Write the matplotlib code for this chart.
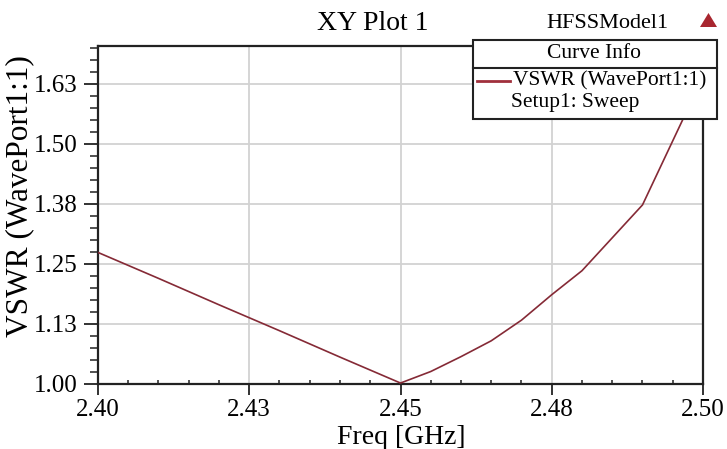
import matplotlib
matplotlib.use("Agg")
import matplotlib.pyplot as plt
from matplotlib.patches import Rectangle, Polygon
from matplotlib.lines import Line2D
from matplotlib.ticker import FixedLocator, FixedFormatter, AutoMinorLocator

plt.rcParams['font.family'] = ['Liberation Serif', 'DejaVu Serif']

# VSWR sweep of WavePort1
freq_ghz = [2.40, 2.41, 2.42, 2.43, 2.44, 2.45, 2.455, 2.46, 2.465, 2.47,
            2.475, 2.48, 2.49, 2.50]
vswr = [1.274, 1.220, 1.165, 1.111, 1.056, 1.002, 1.026, 1.057, 1.090, 1.133,
        1.186, 1.236, 1.373, 1.640]

x_ticks = [2.400, 2.425, 2.450, 2.475, 2.500]
x_tick_labels = ["2.40", "2.43", "2.45", "2.48", "2.50"]
y_ticks = [1.000, 1.125, 1.250, 1.375, 1.500, 1.625]
y_tick_labels = ["1.00", "1.13", "1.25", "1.38", "1.50", "1.63"]

W, H = 727, 449
fig = plt.figure(figsize=(W / 100, H / 100), dpi=100)
fig.patch.set_facecolor('white')


def fx(px):
    return px / W


def fy(py):
    return 1 - py / H


ax = fig.add_axes([fx(98), fy(384), (703 - 98) / W, (384 - 46) / H])
ax.plot(freq_ghz, vswr, color='#852a36', lw=1.2, zorder=3)

ax.set_xlim(2.40, 2.50)
ax.set_ylim(1.00, 1.704)

ax.xaxis.set_major_locator(FixedLocator(x_ticks))
ax.xaxis.set_major_formatter(FixedFormatter(x_tick_labels))
ax.yaxis.set_major_locator(FixedLocator(y_ticks))
ax.yaxis.set_major_formatter(FixedFormatter(y_tick_labels))
ax.xaxis.set_minor_locator(AutoMinorLocator(5))
ax.yaxis.set_minor_locator(AutoMinorLocator(5))

ax.grid(True, which='major', color='#d2d2d2', lw=1.3, zorder=1)
ax.set_axisbelow(True)

for side in ['left', 'bottom', 'right', 'top']:
    ax.spines[side].set_color('#222222')
    ax.spines[side].set_linewidth(1.6)

ax.tick_params(axis='y', which='major', direction='out', length=10, width=1.3,
               color='#222222', labelsize=18, pad=5)
ax.tick_params(axis='y', which='minor', direction='out', length=6, width=1.1,
               color='#222222')
ax.tick_params(axis='x', which='major', direction='out', length=8, width=1.3,
               color='#222222', labelsize=18, pad=3)
ax.tick_params(axis='x', which='minor', direction='in', length=3, width=1.1,
               color='#222222')

# Axis titles and plot title
fig.text(fx(401), fy(437), "Freq [GHz]", fontsize=20, ha='center', va='center')
fig.text(fx(20), fy(196), "VSWR (WavePort1:1)", fontsize=22.5, rotation=90,
         ha='center', va='center')
fig.text(fx(373), fy(23), "XY Plot 1", fontsize=20, ha='center', va='center')

# Model name and marker
fig.text(fx(607), fy(23), "HFSSModel1", fontsize=16, ha='center', va='center')
fig.add_artist(Polygon([[fx(700), fy(27)], [fx(717), fy(27)], [fx(708.5), fy(13)]],
                       closed=True, transform=fig.transFigure,
                       facecolor='#a8262f', edgecolor='none', zorder=10))

# Curve info box
fig.add_artist(Rectangle((fx(473), fy(119)), (717 - 473) / W, (119 - 40) / H,
                         transform=fig.transFigure, facecolor='white',
                         edgecolor='#222222', lw=1.5, zorder=10))
fig.add_artist(Line2D([fx(473), fx(717)], [fy(68), fy(68)],
                      transform=fig.transFigure, color='#222222', lw=1.5,
                      zorder=11))
fig.text(fx(594), fy(54), "Curve Info", fontsize=15.5, ha='center', va='center',
         zorder=12)
fig.add_artist(Line2D([fx(477), fx(510)], [fy(81), fy(81)],
                      transform=fig.transFigure, color='#a0303c', lw=2,
                      zorder=12))
fig.text(fx(513), fy(81), "VSWR (WavePort1:1)", fontsize=15.5, ha='left',
         va='center', zorder=12)
fig.text(fx(511), fy(103), "Setup1: Sweep", fontsize=15.5, ha='left',
         va='center', zorder=12)

fig.savefig("out.png", dpi=100, facecolor='white')
